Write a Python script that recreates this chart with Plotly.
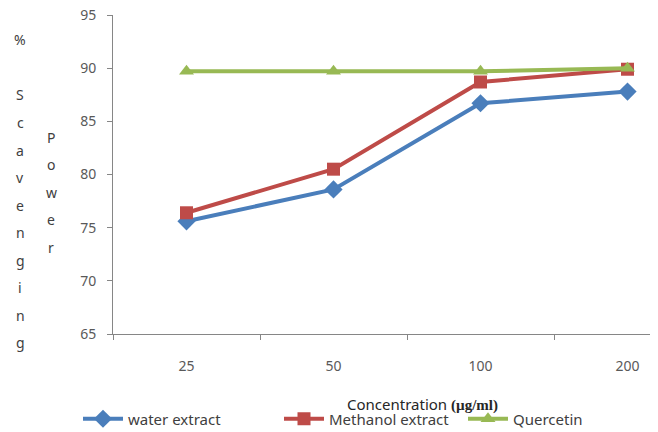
import plotly.graph_objects as go

concentration = ["25", "50", "100", "200"]
water_extract = [75.6, 78.6, 86.7, 87.8]
methanol_extract = [76.4, 80.5, 88.7, 89.9]
quercetin = [89.7, 89.7, 89.7, 90.0]
y_ticks = [65, 70, 75, 80, 85, 90, 95]

OFF = 8  # page body margin
W, H = 658 - OFF, 432 - OFF
ML, MR, MT, MB = 113 - OFF, 8, 15 - OFF, H - (334 - OFF)
PW = W - ML - MR
PH = H - MT - MB

fig = go.Figure()
fig.add_trace(go.Scatter(x=concentration, y=water_extract, name="water extract",
                         mode="lines+markers", legend="legend",
                         line=dict(color="#4a7ebb", width=4),
                         marker=dict(symbol="diamond", size=14, color="#4a7ebb")))
fig.add_trace(go.Scatter(x=concentration, y=methanol_extract, name="Methanol extract",
                         mode="lines+markers", legend="legend2",
                         line=dict(color="#be4b48", width=4),
                         marker=dict(symbol="square", size=13, color="#be4b48")))
fig.add_trace(go.Scatter(x=concentration, y=quercetin, name="Quercetin",
                         mode="lines+markers", legend="legend3",
                         line=dict(color="#98b954", width=4),
                         marker=dict(symbol="triangle-up", size=13, color="#98b954")))

def py(p):
    return (H - MB - (p - OFF)) / PH

def px(p):
    return (p - OFF - ML) / PW

annotations = []
col1 = ["%", ""] + list("Scavenging")
for i, ch in enumerate(col1):
    if ch:
        annotations.append(dict(text=ch, x=px(20), xref="paper", y=py(40 + 27.5 * i), yref="paper",
                                showarrow=False, xanchor="center", yanchor="middle",
                                font=dict(family="Noto Sans", size=14, color="#404040")))
for i, ch in enumerate("Power"):
    annotations.append(dict(text=ch, x=px(51), xref="paper", y=py(137 + 27.5 * i), yref="paper",
                            showarrow=False, xanchor="center", yanchor="middle",
                            font=dict(family="Noto Sans", size=14, color="#404040")))

annotations.append(dict(
    text="Concentration <span style='font-family:Liberation Serif'><b>(µg/ml)</b></span>",
    x=px(422), xref="paper", y=py(404), yref="paper",
    showarrow=False, xanchor="center", yanchor="middle",
    font=dict(family="Noto Sans", size=15, color="#262626")))

def leg(xpix):
    return dict(orientation="h", xref="container", yref="container",
                x=(xpix - OFF) / W, xanchor="left", y=(H - (419 - OFF)) / H, yanchor="middle",
                font=dict(family="Noto Sans", size=15, color="#404040"),
                bgcolor="rgba(0,0,0,0)", itemwidth=40)

fig.update_layout(
    width=W, height=H,
    margin=dict(l=ML, r=MR, t=MT, b=MB, pad=0, autoexpand=False),
    paper_bgcolor="white", plot_bgcolor="white",
    font=dict(family="Noto Sans", size=14, color="#595959"),
    showlegend=True,
    legend=leg(78),
    legend2=leg(279),
    legend3=leg(463),
    annotations=annotations,
    xaxis=dict(type="category", range=[-0.5, 3.153], showgrid=False, zeroline=False,
               showline=True, linecolor="#868686", linewidth=1, automargin=False,
               ticks="outside", ticklen=5, tickcolor="#868686", tickson="boundaries",
               ticklabelstandoff=19, ticklabeloverflow="allow",
               tickfont=dict(family="Noto Sans", size=14, color="#595959")),
    yaxis=dict(range=[65, 95], tickvals=y_ticks, showgrid=False, zeroline=False,
               showline=True, linecolor="#868686", linewidth=1, automargin=False,
               ticks="outside", ticklen=5, tickcolor="#868686",
               ticklabelstandoff=8, ticklabeloverflow="allow",
               tickfont=dict(family="Noto Sans", size=14, color="#595959")),
)

fig.write_html("out.html")
